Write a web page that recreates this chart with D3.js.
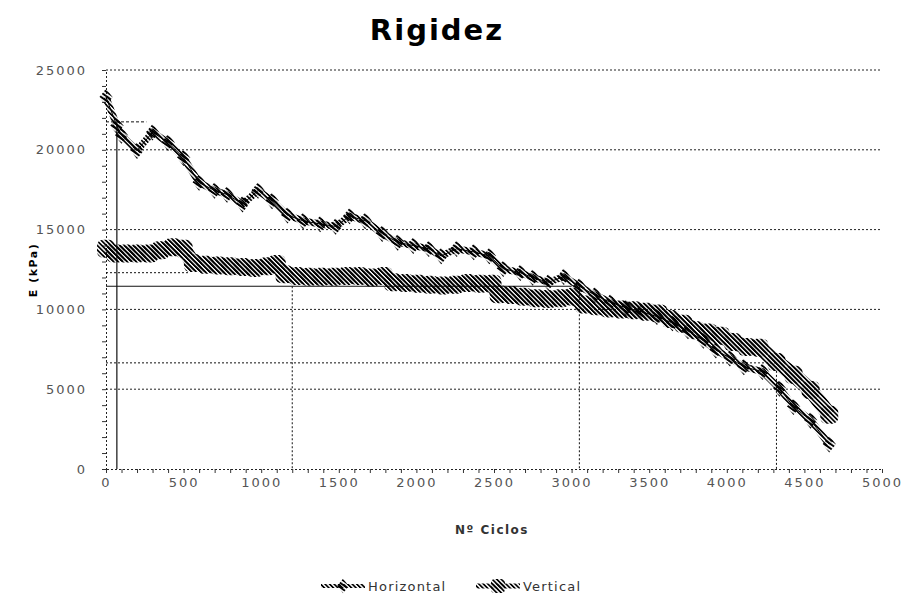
<!DOCTYPE html>
<html>
<head>
<meta charset="utf-8">
<script src="https://cdn.jsdelivr.net/npm/d3@7"></script>
<style>
  body { margin: 0; background: #fff; }
  svg text { font-family: "DejaVu Sans", "Open Sans", sans-serif; }
</style>
</head>
<body>
<svg id="chart" width="907" height="603"></svg>
<script>
// Horizontal series [cycles, kPa]
var horizontal = [
	[0, 23300], [70, 21500], [100, 20900], [200, 19950], [300, 21100],
	[400, 20450], [500, 19500], [600, 17950], [700, 17450], [780, 17200],
	[880, 16600], [980, 17450], [1070, 16800], [1170, 15900], [1270, 15550],
	[1380, 15350], [1480, 15200], [1570, 15850], [1670, 15550], [1780, 14750],
	[1880, 14200], [1980, 14000], [2080, 13800], [2160, 13350], [2260, 13800],
	[2370, 13600], [2470, 13350], [2560, 12550], [2670, 12300], [2750, 12000],
	[2850, 11700], [2950, 12050], [3050, 11450], [3150, 10900], [3250, 10450],
	[3350, 10100], [3450, 9850], [3550, 9550], [3650, 9150], [3750, 8650],
	[3850, 8050], [3930, 7450], [4020, 6950], [4110, 6400], [4230, 6100],
	[4340, 5050], [4430, 3900], [4540, 3050], [4660, 1550]
];

// Vertical series [cycles, kPa]
var vertical = [
	[0, 13800], [60, 13500], [130, 13500], [200, 13500], [280, 13500],
	[350, 13700], [430, 13900], [500, 13800], [560, 12900], [640, 12800],
	[720, 12750], [800, 12700], [880, 12650], [960, 12600], [1040, 12700],
	[1100, 12850], [1150, 12200], [1230, 12100], [1310, 12050], [1390, 12050],
	[1470, 12050], [1550, 12100], [1630, 12100], [1710, 12000], [1790, 12100],
	[1850, 11700], [1930, 11650], [2010, 11600], [2090, 11550], [2170, 11500],
	[2250, 11550], [2330, 11650], [2410, 11600], [2490, 11600], [2530, 10950],
	[2610, 10900], [2690, 10800], [2770, 10700], [2850, 10650], [2930, 10700],
	[3010, 10800], [3080, 10300], [3160, 10200], [3240, 10050], [3320, 10000],
	[3400, 9950], [3480, 9850], [3560, 9750], [3640, 9400], [3720, 9100],
	[3800, 8700], [3880, 8550], [3960, 8350], [4040, 7950], [4130, 7650],
	[4210, 7600], [4320, 6700], [4430, 5900], [4540, 4950], [4660, 3400]
];

// Reference lines [x1, y1, x2, y2, style]
var refLines = [
	[70, 21750, 70, 0, "solid"],
	[0, 21750, 260, 21750, "dash"],
	[0, 12300, 540, 12300, "dot"],
	[0, 11450, 3000, 11450, "solid"],
	[1200, 11450, 1200, 0, "dot"],
	[3050, 11450, 3050, 0, "dot"],
	[0, 6650, 4320, 6650, "dot"],
	[4320, 6650, 4320, 0, "dot"]
];

var yTicks = [0, 5000, 10000, 15000, 20000, 25000];
var seriesNames = ["Horizontal", "Vertical"];

var svg = d3.select("#chart");

var x = d3.scaleLinear().domain([0, 5000]).range([106, 882]);
var y = d3.scaleLinear().domain([0, 25000]).range([469, 70]);

// hatch pattern (lines running top-left to bottom-right)
var defs = svg.append("defs");
defs.append("pattern")
	.attr("id", "hatch")
	.attr("patternUnits", "userSpaceOnUse")
	.attr("width", 3.2)
	.attr("height", 3.2)
	.attr("patternTransform", "rotate(-45)")
	.append("rect")
		.attr("x", 0).attr("y", 0)
		.attr("width", 1.7).attr("height", 3.2)
		.attr("fill", "#000");

// gridlines
svg.append("g")
	.selectAll("line")
	.data(yTicks.slice(1))
	.enter().append("line")
		.attr("x1", x(0)).attr("x2", x(5000))
		.attr("y1", function(d) { return y(d); })
		.attr("y2", function(d) { return y(d); })
		.attr("stroke", "#222")
		.attr("stroke-width", 1)
		.attr("stroke-dasharray", "2,2");

// Y axis
var yAxis = svg.append("g")
	.attr("transform", "translate(106,0)")
	.call(d3.axisLeft(y).tickValues(d3.range(0, 25001, 1000)).tickSize(4).tickFormat(function(d) {
		return d % 5000 === 0 ? d : "";
	}));
yAxis.select(".domain").attr("stroke-dasharray", "2,2").attr("stroke", "#222");
yAxis.selectAll(".tick line").attr("stroke", "#333");
yAxis.selectAll(".tick text")
	.attr("x", -19)
	.attr("font-size", 13)
	.attr("letter-spacing", 2)
	.attr("fill", "#555");

// X axis
var xAxis = svg.append("g")
	.attr("transform", "translate(0,469)")
	.call(d3.axisBottom(x).tickValues(d3.range(0, 5001, 100)).tickSize(4).tickFormat(function(d) {
		return d % 500 === 0 ? d : "";
	}));
xAxis.select(".domain").attr("stroke-dasharray", "2,2").attr("stroke", "#222");
xAxis.selectAll(".tick line").attr("stroke", "#333");
xAxis.selectAll(".tick text")
	.attr("y", 9)
	.attr("font-size", 13)
	.attr("letter-spacing", 2)
	.attr("fill", "#555");

// reference lines
svg.append("g")
	.selectAll("line")
	.data(refLines)
	.enter().append("line")
		.attr("x1", function(d) { return x(d[0]); })
		.attr("y1", function(d) { return y(d[1]); })
		.attr("x2", function(d) { return x(d[2]); })
		.attr("y2", function(d) { return y(d[3]); })
		.attr("stroke", "#111")
		.attr("stroke-width", function(d) { return d[4] === "solid" ? 1.2 : 1; })
		.attr("stroke-dasharray", function(d) {
			if (d[4] === "dash") return "3,2";
			if (d[4] === "dot") return "2,2";
			return null;
		});

var line = d3.line()
	.x(function(d) { return x(d[0]); })
	.y(function(d) { return y(d[1]); });

// Vertical series: thick hatched band + round markers
svg.append("path")
	.datum(vertical)
	.attr("d", line)
	.attr("fill", "none")
	.attr("stroke", "url(#hatch)")
	.attr("stroke-width", 15)
	.attr("stroke-linejoin", "round");
svg.append("g")
	.selectAll("rect")
	.data(vertical)
	.enter().append("rect")
		.attr("x", function(d) { return x(d[0]) - 9; })
		.attr("y", function(d) { return y(d[1]) - 9; })
		.attr("width", 18)
		.attr("height", 18)
		.attr("rx", 6)
		.attr("fill", "url(#hatch)");

// Horizontal series: hatched band + diamond markers
svg.append("path")
	.datum(horizontal)
	.attr("d", line)
	.attr("fill", "none")
	.attr("stroke", "url(#hatch)")
	.attr("stroke-width", 7)
	.attr("stroke-linejoin", "round");
svg.append("path")
	.datum(horizontal)
	.attr("d", line)
	.attr("fill", "none")
	.attr("stroke", "#000")
	.attr("stroke-width", 1);
var diamond = d3.symbol().type(d3.symbolDiamond).size(80);
svg.append("g")
	.selectAll("path")
	.data(horizontal)
	.enter().append("path")
		.attr("d", diamond)
		.attr("transform", function(d) { return "translate(" + x(d[0]) + "," + y(d[1]) + ") scale(1.4,1)"; })
		.attr("fill", "url(#hatch)");

// title
svg.append("text")
	.attr("x", 437)
	.attr("y", 40)
	.attr("text-anchor", "middle")
	.attr("font-size", 29)
	.attr("font-weight", "bold")
	.attr("letter-spacing", 2)
	.text("Rigidez");

// axis titles
svg.append("text")
	.attr("transform", "translate(37,270) rotate(-90)")
	.attr("text-anchor", "middle")
	.attr("font-size", 11)
	.attr("font-weight", "bold")
	.attr("letter-spacing", 1.5)
	.text("E (kPa)");

svg.append("text")
	.attr("x", 492)
	.attr("y", 534)
	.attr("text-anchor", "middle")
	.attr("font-size", 12)
	.attr("font-weight", "bold")
	.attr("letter-spacing", 1.5)
	.attr("fill", "#333")
	.text("Nº Ciclos");

// legend
var legend = svg.append("g").attr("transform", "translate(0,586)");
var legendX = [321, 476];
seriesNames.forEach(function(name, i) {
	var x0 = legendX[i];
	legend.append("line")
		.attr("x1", x0).attr("x2", x0 + 44)
		.attr("y1", 0).attr("y2", 0)
		.attr("stroke", "url(#hatch)")
		.attr("stroke-width", i === 0 ? 4 : 5);
	if (i === 0) {
		legend.append("path")
			.attr("d", d3.symbol().type(d3.symbolDiamond).size(60))
			.attr("transform", "translate(" + (x0 + 22) + ",0) scale(1.4,1)")
			.attr("fill", "url(#hatch)");
	} else {
		legend.append("rect")
			.attr("x", x0 + 15).attr("y", -7)
			.attr("width", 14).attr("height", 14).attr("rx", 4)
			.attr("fill", "url(#hatch)");
	}
	legend.append("text")
		.attr("x", x0 + 47)
		.attr("y", 5)
		.attr("font-size", 13)
		.attr("letter-spacing", 1.2)
		.attr("fill", "#333")
		.text(name);
});
</script>
</body>
</html>
